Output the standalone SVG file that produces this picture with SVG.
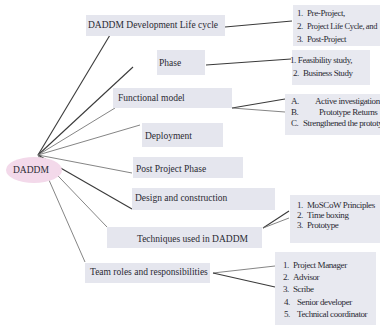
<svg xmlns="http://www.w3.org/2000/svg" width="380" height="335" viewBox="0 0 380 335">
  <style>
    .box { fill: #e5e6ee; }
    .list { fill: #e8e9f0; }
    .lbl { font-family: "Liberation Serif", "Times New Roman", serif; font-size: 9.5px; fill: #2a2a33; }
    .item { font-family: "Liberation Serif", "Times New Roman", serif; font-size: 9px; letter-spacing: -0.4px; fill: #2a2a33; }
    .edge { stroke: #3a3a3a; stroke-width: 1.1; fill: none; }
    .thin { stroke: #777; stroke-width: 0.9; fill: none; }
  </style>

  <rect width="380" height="335" fill="#ffffff"/>

  <!-- connectors -->
  <g id="connectors">
    <line class="edge" x1="38" y1="155" x2="110" y2="35"/>
    <line class="edge" x1="38" y1="155" x2="133" y2="67"/>
    <line class="thin" x1="38" y1="155" x2="115" y2="108"/>
    <line class="thin" x1="38" y1="155" x2="140" y2="125"/>
    <line class="thin" x1="38" y1="155" x2="132" y2="173"/>
    <line class="edge" x1="38" y1="155" x2="132" y2="209"/>
    <line class="thin" x1="38" y1="155" x2="107" y2="227"/>
    <line class="thin" x1="38" y1="155" x2="85" y2="262"/>

    <line class="edge" x1="225" y1="27" x2="292" y2="21"/>
    <line class="edge" x1="206" y1="65" x2="291" y2="59"/>
    <line class="edge" x1="232" y1="108" x2="285" y2="99"/>
    <line class="thin" x1="232" y1="108" x2="285" y2="112"/>
    <line class="edge" x1="263" y1="228" x2="289" y2="211"/>
    <line class="thin" x1="263" y1="228" x2="289" y2="218"/>
    <line class="thin" x1="213" y1="273" x2="275" y2="266"/>
    <line class="edge" x1="213" y1="273" x2="275" y2="287"/>
  </g>

  <!-- root -->
  <g id="root">
    <ellipse cx="34" cy="170" rx="28" ry="13" fill="#f3d9ea"/>
    <text class="lbl" x="13" y="173">DADDM</text>
  </g>

  <g id="lifecycle">
    <rect class="box" x="86" y="15" width="139" height="21"/>
    <text class="lbl" x="88" y="28">DADDM Development Life cycle</text>
  </g>
  <g id="phase">
    <rect class="box" x="157" y="50" width="48" height="25"/>
    <text class="lbl" x="159" y="66">Phase</text>
  </g>
  <g id="functional">
    <rect class="box" x="113" y="88" width="119" height="20"/>
    <text class="lbl" x="118" y="101">Functional model</text>
  </g>
  <g id="deployment">
    <rect class="box" x="142" y="123" width="81" height="24"/>
    <text class="lbl" x="145" y="139">Deployment</text>
  </g>
  <g id="postproject">
    <rect class="box" x="133" y="157" width="110" height="21"/>
    <text class="lbl" x="136" y="172">Post Project Phase</text>
  </g>
  <g id="design">
    <rect class="box" x="132" y="188" width="143" height="22"/>
    <text class="lbl" x="135" y="201">Design and construction</text>
  </g>
  <g id="techniques">
    <rect class="box" x="107" y="227" width="155" height="21"/>
    <text class="lbl" x="137" y="242">Techniques used in DADDM</text>
  </g>
  <g id="team">
    <rect class="box" x="85" y="263" width="125" height="20"/>
    <text class="lbl" x="90" y="275">Team roles and responsibilities</text>
  </g>

  <!-- lists -->
  <g id="lifecycle-list">
    <rect class="list" x="293" y="5" width="87" height="41"/>
    <text class="item" x="297" y="16">1.</text><text class="item" x="307" y="16">Pre-Project,</text>
    <text class="item" x="297" y="29">2.</text><text class="item" x="307" y="29" textLength="70" lengthAdjust="spacingAndGlyphs">Project Life Cycle, and</text>
    <text class="item" x="297" y="42">3.</text><text class="item" x="307" y="42">Post-Project</text>
  </g>
  <g id="phase-list">
    <rect class="list" x="292" y="50" width="78" height="35"/>
    <text class="item" x="290" y="63">1. Feasibility study,</text>
    <text class="item" x="293" y="76">2.</text><text class="item" x="303" y="76">Business Study</text>
  </g>
  <g id="functional-list">
    <rect class="list" x="285" y="94" width="95" height="41"/>
    <text class="item" x="291" y="104">A.</text><text class="item" x="315" y="104">Active investigation</text>
    <text class="item" x="291" y="115">B.</text><text class="item" x="319" y="115">Prototype Returns</text>
    <text class="item" x="291" y="126">C.</text><text class="item" x="303" y="126">Strengthened the prototype</text>
  </g>
  <g id="techniques-list">
    <rect class="list" x="290" y="195" width="90" height="48"/>
    <text class="item" x="297" y="208">1.</text><text class="item" x="307" y="208">MoSCoW Principles</text>
    <text class="item" x="297" y="218">2.</text><text class="item" x="307" y="218">Time boxing</text>
    <text class="item" x="297" y="228">3.</text><text class="item" x="307" y="228">Prototype</text>
  </g>
  <g id="team-list">
    <rect class="list" x="275" y="252" width="101" height="73"/>
    <text class="item" x="283" y="268">1.</text><text class="item" x="293" y="268">Project Manager</text>
    <text class="item" x="283" y="280">2.</text><text class="item" x="293" y="280">Advisor</text>
    <text class="item" x="283" y="292">3.</text><text class="item" x="293" y="292">Scribe</text>
    <text class="item" x="284" y="305">4.</text><text class="item" x="297" y="305">Senior developer</text>
    <text class="item" x="284" y="317">5.</text><text class="item" x="297" y="317">Technical coordinator</text>
  </g>
</svg>
